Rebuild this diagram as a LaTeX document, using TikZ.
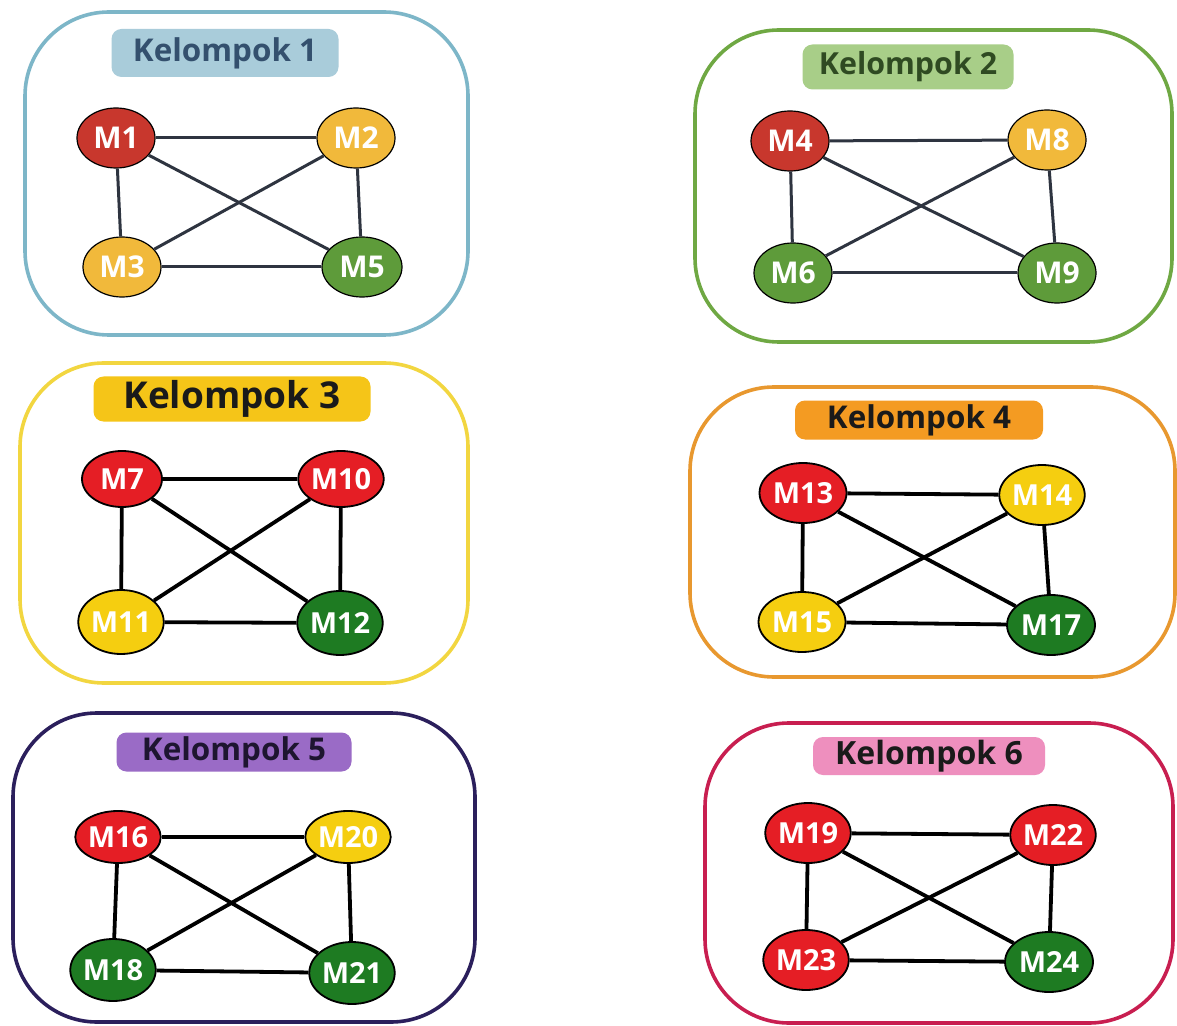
\documentclass[tikz,border=0pt]{standalone}
\usepackage{fontspec}
\setmainfont{Open Sans}
\usetikzlibrary{shapes.geometric}
\definecolor{redA}{HTML}{C8372D}
\definecolor{yelA}{HTML}{F1B93B}
\definecolor{grnA}{HTML}{5E9B3A}
\definecolor{redB}{HTML}{E51E25}
\definecolor{yelB}{HTML}{F5CE10}
\definecolor{grnB}{HTML}{1E7B22}
\definecolor{frA}{HTML}{7DB6C8}\definecolor{tfA}{HTML}{A9CCDA}\definecolor{ttA}{HTML}{34506E}
\definecolor{frB}{HTML}{6FA843}\definecolor{tfB}{HTML}{A8CE88}\definecolor{ttB}{HTML}{2F4A22}
\definecolor{frC}{HTML}{F2D640}\definecolor{tfC}{HTML}{F5C518}
\definecolor{frD}{HTML}{E8982F}\definecolor{tfD}{HTML}{F49B22}
\definecolor{frE}{HTML}{2B1F5C}\definecolor{tfE}{HTML}{9A6BC6}\definecolor{ttE}{HTML}{1E1530}
\definecolor{frF}{HTML}{C81E50}\definecolor{tfF}{HTML}{EE8FBE}
\definecolor{darkT}{HTML}{1A1A1A}
\definecolor{edgeA}{HTML}{2E3440}
\begin{document}
\begin{tikzpicture}[x=0.5pt,y=-0.5pt,
  frame/.style={line width=1.8pt, rounded corners=42pt},
  title/.style={rounded corners=5pt, inner sep=0pt, font=\bfseries\fontsize{15.7}{15.7}\selectfont},
  mA/.style={ellipse, draw=black, line width=0.6pt, inner sep=0pt, minimum width=39pt, minimum height=30pt, text=white, font=\bfseries\fontsize{15}{15}\selectfont},
  mB/.style={ellipse, draw=black, line width=0.9pt, inner sep=0pt, minimum width=40pt, minimum height=30pt, text=white, font=\bfseries\fontsize{14.5}{14.5}\selectfont},
  eA/.style={draw=edgeA, line width=1.5pt},
  eB/.style={draw=black, line width=1.9pt}]
\useasboundingbox[fill=white] (0,0) rectangle (1177,1026);

% ---------- Kelompok 1 ----------
\draw[frame, draw=frA] (25,12) rectangle (468,335);
\node[title, fill=tfA, text=ttA, minimum width=113.5pt, minimum height=24pt] (t1) at (225,53) {Kelompok 1};
\node[mA, fill=redA] (M1) at (116,138) {M1};
\node[mA, fill=yelA] (M2) at (356,138) {M2};
\node[mA, fill=yelA] (M3) at (122,267) {M3};
\node[mA, fill=grnA, minimum width=40pt] (M5) at (362,267) {M5};
\draw[eA] (M1) -- (M2); \draw[eA] (M1) -- (M3); \draw[eA] (M1) -- (M5);
\draw[eA] (M2) -- (M3); \draw[eA] (M2) -- (M5); \draw[eA] (M3) -- (M5);

% ---------- Kelompok 2 ----------
\draw[frame, draw=frB] (695,30) rectangle (1172,342);
\node[title, fill=tfB, text=ttB, minimum width=105.5pt, minimum height=22.5pt, font=\bfseries\fontsize{15.2}{15.2}\selectfont] (t2) at (908,67) {Kelompok 2};
\node[mA, fill=redA] (M4) at (790,141) {M4};
\node[mA, fill=yelA] (M8) at (1047,140) {M8};
\node[mA, fill=grnA] (M6) at (793,273) {M6};
\node[mA, fill=grnA] (M9) at (1057,273) {M9};
\draw[eA] (M4) -- (M8); \draw[eA] (M4) -- (M6); \draw[eA] (M4) -- (M9);
\draw[eA] (M8) -- (M6); \draw[eA] (M8) -- (M9); \draw[eA] (M6) -- (M9);

% ---------- Kelompok 3 ----------
\draw[frame, draw=frC] (20,363) rectangle (468,683);
\node[title, fill=tfC, text=darkT, minimum width=138.5pt, minimum height=22.5pt, font=\bfseries\fontsize{18.5}{18.5}\selectfont] (t3) at (232,399) {Kelompok 3};
\node[mB, fill=redB, minimum height=28pt] (M7) at (122,479) {M7};
\node[mB, fill=redB, minimum height=28pt] (M10) at (341,479) {M10};
\node[mB, fill=yelB, minimum height=32pt] (M11) at (121,622) {M11};
\node[mB, fill=grnB, minimum height=32pt] (M12) at (340,623) {M12};
\draw[eB] (M7) -- (M10); \draw[eB] (M7) -- (M11); \draw[eB] (M7) -- (M12);
\draw[eB] (M10) -- (M11); \draw[eB] (M10) -- (M12); \draw[eB] (M11) -- (M12);

% ---------- Kelompok 4 ----------
\draw[frame, draw=frD] (690,387) rectangle (1175,677);
\node[title, fill=tfD, text=darkT, minimum width=124pt, minimum height=19.5pt] (t4) at (919,420) {Kelompok 4};
\node[mB, fill=redB, minimum width=43.5pt] (M13) at (803,493) {M13};
\node[mB, fill=yelB, minimum width=41.5pt] (M14) at (1042,495) {M14};
\node[mB, fill=yelB, minimum width=43.5pt] (M15) at (802,622) {M15};
\node[mB, fill=grnB, minimum width=44pt] (M17) at (1051,625) {M17};
\draw[eB] (M13) -- (M14); \draw[eB] (M13) -- (M15); \draw[eB] (M13) -- (M17);
\draw[eB] (M14) -- (M15); \draw[eB] (M14) -- (M17); \draw[eB] (M15) -- (M17);

% ---------- Kelompok 5 ----------
\draw[frame, draw=frE] (13,713) rectangle (475,1022);
\node[title, fill=tfE, text=ttE, minimum width=117.5pt, minimum height=19.5pt] (t5) at (234,752) {Kelompok 5};
\node[mB, fill=redB, minimum width=39pt, minimum height=26pt] (M16) at (118,837) {M16};
\node[mB, fill=yelB, minimum width=36pt, minimum height=26pt] (M20) at (348,837) {M20};
\node[mB, fill=grnB, minimum width=40pt, minimum height=31pt] (M18) at (113,970) {M18};
\node[mB, fill=grnB, minimum width=40pt, minimum height=31pt] (M21) at (352,973) {M21};
\draw[eB] (M16) -- (M20); \draw[eB] (M16) -- (M18); \draw[eB] (M16) -- (M21);
\draw[eB] (M20) -- (M18); \draw[eB] (M20) -- (M21); \draw[eB] (M18) -- (M21);

% ---------- Kelompok 6 ----------
\draw[frame, draw=frF] (705,723) rectangle (1173,1023);
\node[title, fill=tfF, text=darkT, minimum width=116pt, minimum height=19pt, font=\bfseries\fontsize{16}{16}\selectfont] (t6) at (929,756) {Kelompok 6};
\node[mB, fill=redB, minimum width=41pt] (M19) at (808,833) {M19};
\node[mB, fill=redB, minimum width=40pt] (M22) at (1053,835) {M22};
\node[mB, fill=redB, minimum width=41.5pt] (M23) at (806,960) {M23};
\node[mB, fill=grnB, minimum width=44pt] (M24) at (1049,962) {M24};
\draw[eB] (M19) -- (M22); \draw[eB] (M19) -- (M23); \draw[eB] (M19) -- (M24);
\draw[eB] (M22) -- (M23); \draw[eB] (M22) -- (M24); \draw[eB] (M23) -- (M24);
\end{tikzpicture}
\end{document}
